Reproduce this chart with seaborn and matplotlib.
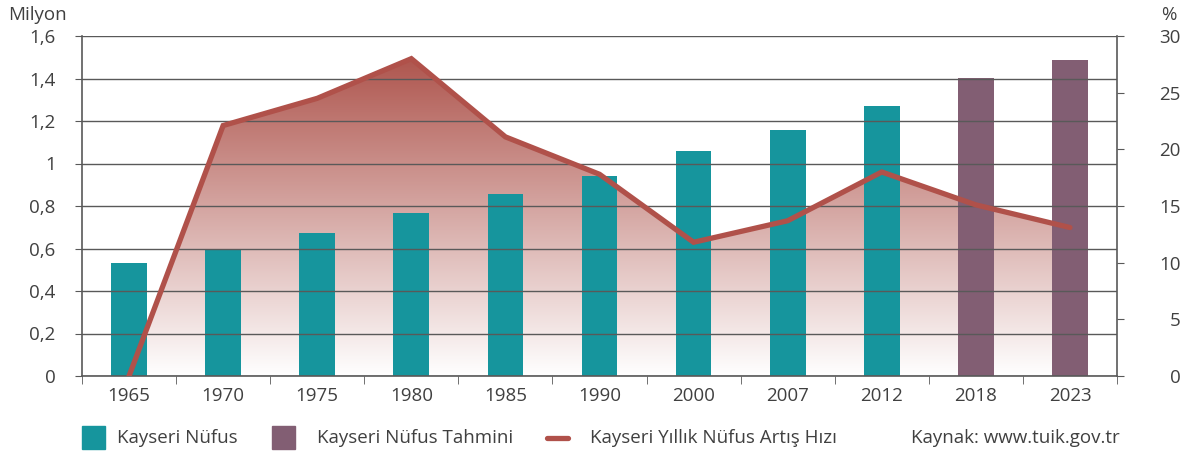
import numpy as np
import pandas as pd
import matplotlib
matplotlib.use("Agg")
import matplotlib.pyplot as plt
import seaborn as sns
from matplotlib.colors import LinearSegmentedColormap
from matplotlib.patches import Rectangle
from matplotlib.lines import Line2D

years = ["1965", "1970", "1975", "1980", "1985", "1990", "2000", "2007", "2012", "2018", "2023"]
population = [0.532, 0.598, 0.673, 0.767, 0.856, 0.941, 1.059, 1.158, 1.271, 1.402, 1.487]
kind = ["Kayseri Nüfus"] * 9 + ["Kayseri Nüfus Tahmini"] * 2
growth_rate = [0.0, 22.1, 24.5, 28.0, 21.1, 17.8, 11.8, 13.7, 18.0, 15.1, 13.1]

teal = "#16959d"
purple = "#825e73"
red = "#b0514a"
txt = "#404040"
grid_c = "#595959"
fs = 13.5

sns.set_style("white")
plt.rcParams["font.family"] = ["Open Sans", "DejaVu Sans"]

df = pd.DataFrame({"year": years, "pop": population, "kind": kind})

fig = plt.figure(figsize=(11.95, 4.55), dpi=100)
ax = fig.add_axes([82 / 1195, 79 / 455, 1035 / 1195, 340 / 455])

sns.barplot(data=df, x="year", y="pop", hue="kind", dodge=False, width=0.38,
            palette={"Kayseri Nüfus": teal, "Kayseri Nüfus Tahmini": purple},
            saturation=1, legend=False, ax=ax, zorder=1, linewidth=0)

# gradient area under the growth line (drawn in left-axis units)
xs = np.arange(len(years))
r_left = np.array(growth_rate) * 1.6 / 30
poly = ax.fill_between(xs, 0, r_left, color="none", lw=0, zorder=0.5)
cmap = LinearSegmentedColormap.from_list("grad", ["#ffffff", "#a94a42"])
grad = np.linspace(0, 1, 256).reshape(-1, 1)
im = ax.imshow(grad, extent=[-0.5, len(years) - 0.5, 0, 1.6], origin="lower",
               aspect="auto", cmap=cmap, vmin=0, vmax=1, zorder=0.5)
im.set_clip_path(poly.get_paths()[0], transform=ax.transData)

ax.set_xlim(-0.5, len(years) - 0.5)
ax.set_ylim(0, 1.6)
ax.set_yticks(np.arange(0, 1.61, 0.2))
ax.set_yticklabels(["0", "0,2", "0,4", "0,6", "0,8", "1", "1,2", "1,4", "1,6"])
ax.set_axisbelow(False)
ax.grid(axis="y", color=grid_c, lw=1)
ax.set_xlabel("")
ax.set_ylabel("")
ax.set_xticks(np.arange(-0.5, len(years), 1), minor=True)
ax.tick_params(axis="x", which="major", length=0, pad=8, labelsize=fs, labelcolor=txt)
ax.tick_params(axis="x", which="minor", length=6, color=grid_c, direction="out", bottom=True)
ax.tick_params(axis="y", length=5, color=grid_c, direction="out", left=True, pad=14,
               labelsize=fs, labelcolor=txt)
for s in ["top", "right"]:
    ax.spines[s].set_visible(False)
for s in ["left", "bottom"]:
    ax.spines[s].set_color(grid_c)
    ax.spines[s].set_linewidth(1.2)

ax2 = ax.twinx()
sns.lineplot(x=xs, y=growth_rate, color=red, lw=3.8, ax=ax2, solid_joinstyle="miter")
ax2.set_ylim(0, 30)
ax2.set_xlim(-0.5, len(years) - 0.5)
ax2.set_yticks(np.arange(0, 31, 5))
ax2.tick_params(axis="y", length=5, color=grid_c, direction="out", right=True, pad=41,
                labelsize=fs, labelcolor=txt)
for lab in ax2.get_yticklabels():
    lab.set_ha("right")
for s in ["top", "left", "bottom"]:
    ax2.spines[s].set_visible(False)
ax2.spines["right"].set_color(grid_c)
ax2.spines["right"].set_linewidth(1.2)
ax2.grid(False)

fig.text(8 / 1195, 1 - 15 / 455, "Milyon", fontsize=fs, color=txt, va="center")
fig.text(1177 / 1195, 1 - 15 / 455, "%", fontsize=fs, color=txt, va="center", ha="right")

# legend
ly = 1 - 438 / 455
fig.patches.append(Rectangle((82 / 1195, 1 - 449 / 455), 23 / 1195, 23 / 455,
                             transform=fig.transFigure, color=teal))
fig.text(117 / 1195, ly, "Kayseri Nüfus", fontsize=fs, color=txt, va="center")
fig.patches.append(Rectangle((272 / 1195, 1 - 449 / 455), 23 / 1195, 23 / 455,
                             transform=fig.transFigure, color=purple))
fig.text(317 / 1195, ly, "Kayseri Nüfus Tahmini", fontsize=fs, color=txt, va="center")
fig.add_artist(Line2D([547 / 1195, 568 / 1195], [ly, ly], transform=fig.transFigure,
                      color=red, lw=3.8))
fig.text(590 / 1195, ly, "Kayseri Yıllık Nüfus Artış Hızı", fontsize=fs, color=txt, va="center")
fig.text(1120 / 1195, ly, "Kaynak: www.tuik.gov.tr", fontsize=fs, color=txt, va="center", ha="right")

fig.savefig("out.png", dpi=100)
